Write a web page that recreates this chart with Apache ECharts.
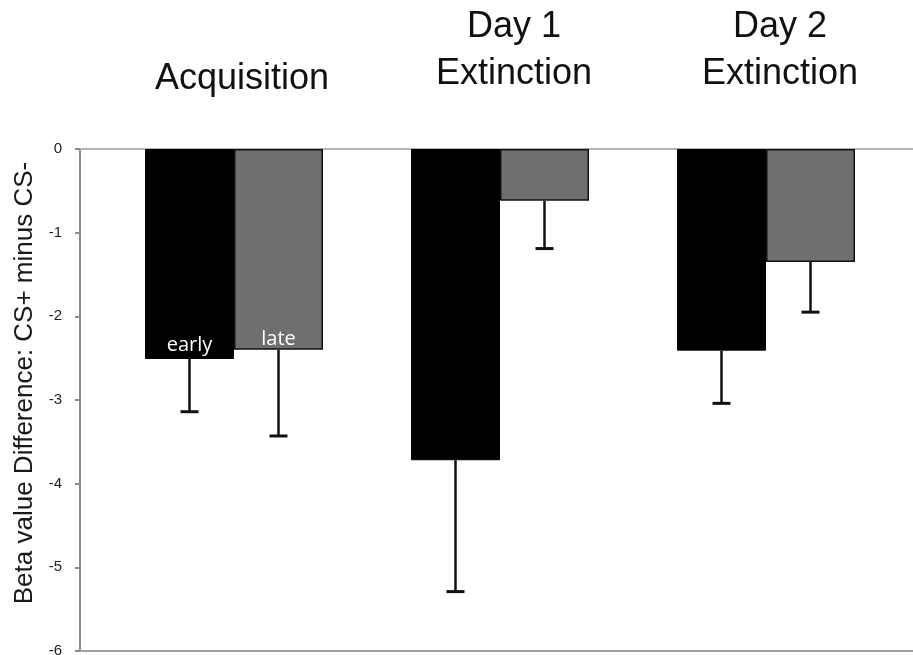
<!DOCTYPE html>
<html>
<head>
<meta charset="utf-8">
<script src="https://cdn.jsdelivr.net/npm/echarts@6/dist/echarts.min.js"></script>
<style>
  html, body { margin: 0; padding: 0; background: #fff; }
  #chart { width: 913px; height: 655px; }
</style>
</head>
<body>
<div id="chart"></div>
<script>
// Phases of the conditioning experiment
const categories = ['Acquisition', 'Day 1\nExtinction', 'Day 2\nExtinction'];

// Mean beta difference (CS+ minus CS-) per phase
const earlyValues = [-2.51, -3.72, -2.41];
const lateValues = [-2.40, -0.62, -1.35];

// Standard errors, drawn downward from each bar
const earlyErrors = [0.63, 1.57, 0.63];
const lateErrors = [1.03, 0.57, 0.60];

// Value axis ticks
const yTicks = [0, -1, -2, -3, -4, -5, -6];

const BAR_W = 89;
const FONT = '"Liberation Sans", Arial, sans-serif';

function errorSeries(name, values, errors, side) {
  return {
    name: name,
    type: 'custom',
    xAxisIndex: 0,
    yAxisIndex: 0,
    z: 5,
    data: values.map((v, i) => [i, v, v - errors[i]]),
    renderItem: function (params, api) {
      const top = api.coord([api.value(0), api.value(1)]);
      const bot = api.coord([api.value(0), api.value(2)]);
      const x = top[0] + side * BAR_W / 2;
      const cap = 9;
      return {
        type: 'group',
        children: [
          { type: 'line', shape: { x1: x, y1: top[1], x2: x, y2: bot[1] },
            style: { stroke: '#111', lineWidth: 2.5 } },
          { type: 'line', shape: { x1: x - cap, y1: bot[1], x2: x + cap, y2: bot[1] },
            style: { stroke: '#111', lineWidth: 3 } }
        ]
      };
    }
  };
}

const chart = echarts.init(document.getElementById('chart'));
chart.setOption({
  animation: false,
  backgroundColor: '#fff',
  grid: [
    { left: 101, right: 14, top: 149, bottom: 4, outerBoundsMode: 'none', containLabel: false },
    { left: 80, right: 0, top: 149, bottom: 4, outerBoundsMode: 'none', containLabel: false }
  ],
  xAxis: [
    {
      type: 'category',
      gridIndex: 0,
      position: 'top',
      data: categories.map((c, i) => i === 0
        ? { value: c, textStyle: { padding: [0, 0, 0, 16], lineHeight: 37 } }
        : c),
      axisLine: { show: false },
      axisTick: { show: false },
      axisLabel: {
        margin: 51,
        color: '#111',
        fontFamily: FONT,
        fontSize: 36,
        lineHeight: 47,
        padding: [0, 0, 0, 28]
      },
      splitLine: { show: false }
    },
    {
      type: 'value', gridIndex: 1, position: 'top', min: 0, max: 1,
      axisLine: { show: true, onZero: false, lineStyle: { color: '#b3b3b3', width: 2 } },
      axisTick: { show: false }, axisLabel: { show: false }, splitLine: { show: false }
    },
    {
      type: 'value', gridIndex: 1, position: 'bottom', min: 0, max: 1,
      axisLine: { show: true, onZero: false, lineStyle: { color: '#a0a0a0', width: 2 } },
      axisTick: { show: false }, axisLabel: { show: false }, splitLine: { show: false }
    }
  ],
  yAxis: [
    {
      type: 'value',
      gridIndex: 0,
      min: yTicks[yTicks.length - 1],
      max: yTicks[0],
      interval: 1,
      offset: 21,
      name: 'Beta value Difference: CS+ minus CS-',
      nameLocation: 'middle',
      nameRotate: 90,
      nameGap: 36,
      nameTextStyle: { color: '#1a1a1a', fontFamily: FONT, fontSize: 26, padding: [0, 0, 0, 34] },
      axisLine: { show: true, lineStyle: { color: '#8c8c8c', width: 2 } },
      axisTick: { show: true, length: 5, lineStyle: { color: '#8c8c8c', width: 2 } },
      axisLabel: { color: '#222', fontFamily: FONT, fontSize: 15, margin: 18 },
      splitLine: { show: false }
    },
    {
      type: 'value', gridIndex: 1, min: -6, max: 0,
      axisLine: { show: false }, axisTick: { show: false },
      axisLabel: { show: false }, splitLine: { show: false }
    }
  ],
  series: [
    {
      name: 'early',
      type: 'bar',
      xAxisIndex: 0, yAxisIndex: 0,
      barWidth: BAR_W,
      barGap: '0%',
      data: earlyValues.map((v, i) => ({
        value: v,
        label: i === 0 ? { show: true } : { show: false }
      })),
      itemStyle: { color: '#000', borderColor: '#000', borderWidth: 1 },
      label: {
        position: 'insideBottom',
        distance: 4,
        formatter: 'early',
        color: '#fff',
        fontFamily: '"Open Sans", sans-serif',
        fontSize: 20
      }
    },
    {
      name: 'late',
      type: 'bar',
      xAxisIndex: 0, yAxisIndex: 0,
      barWidth: BAR_W,
      barGap: '0%',
      data: lateValues.map((v, i) => ({
        value: v,
        label: i === 0 ? { show: true } : { show: false }
      })),
      itemStyle: { color: '#6f6f6f', borderColor: '#111', borderWidth: 1.5 },
      label: {
        position: 'insideBottom',
        distance: 1,
        formatter: 'late',
        color: '#fff',
        fontFamily: '"Open Sans", sans-serif',
        fontSize: 20
      }
    },
    errorSeries('early error', earlyValues, earlyErrors, -1),
    errorSeries('late error', lateValues, lateErrors, 1)
  ]
});
</script>
</body>
</html>
